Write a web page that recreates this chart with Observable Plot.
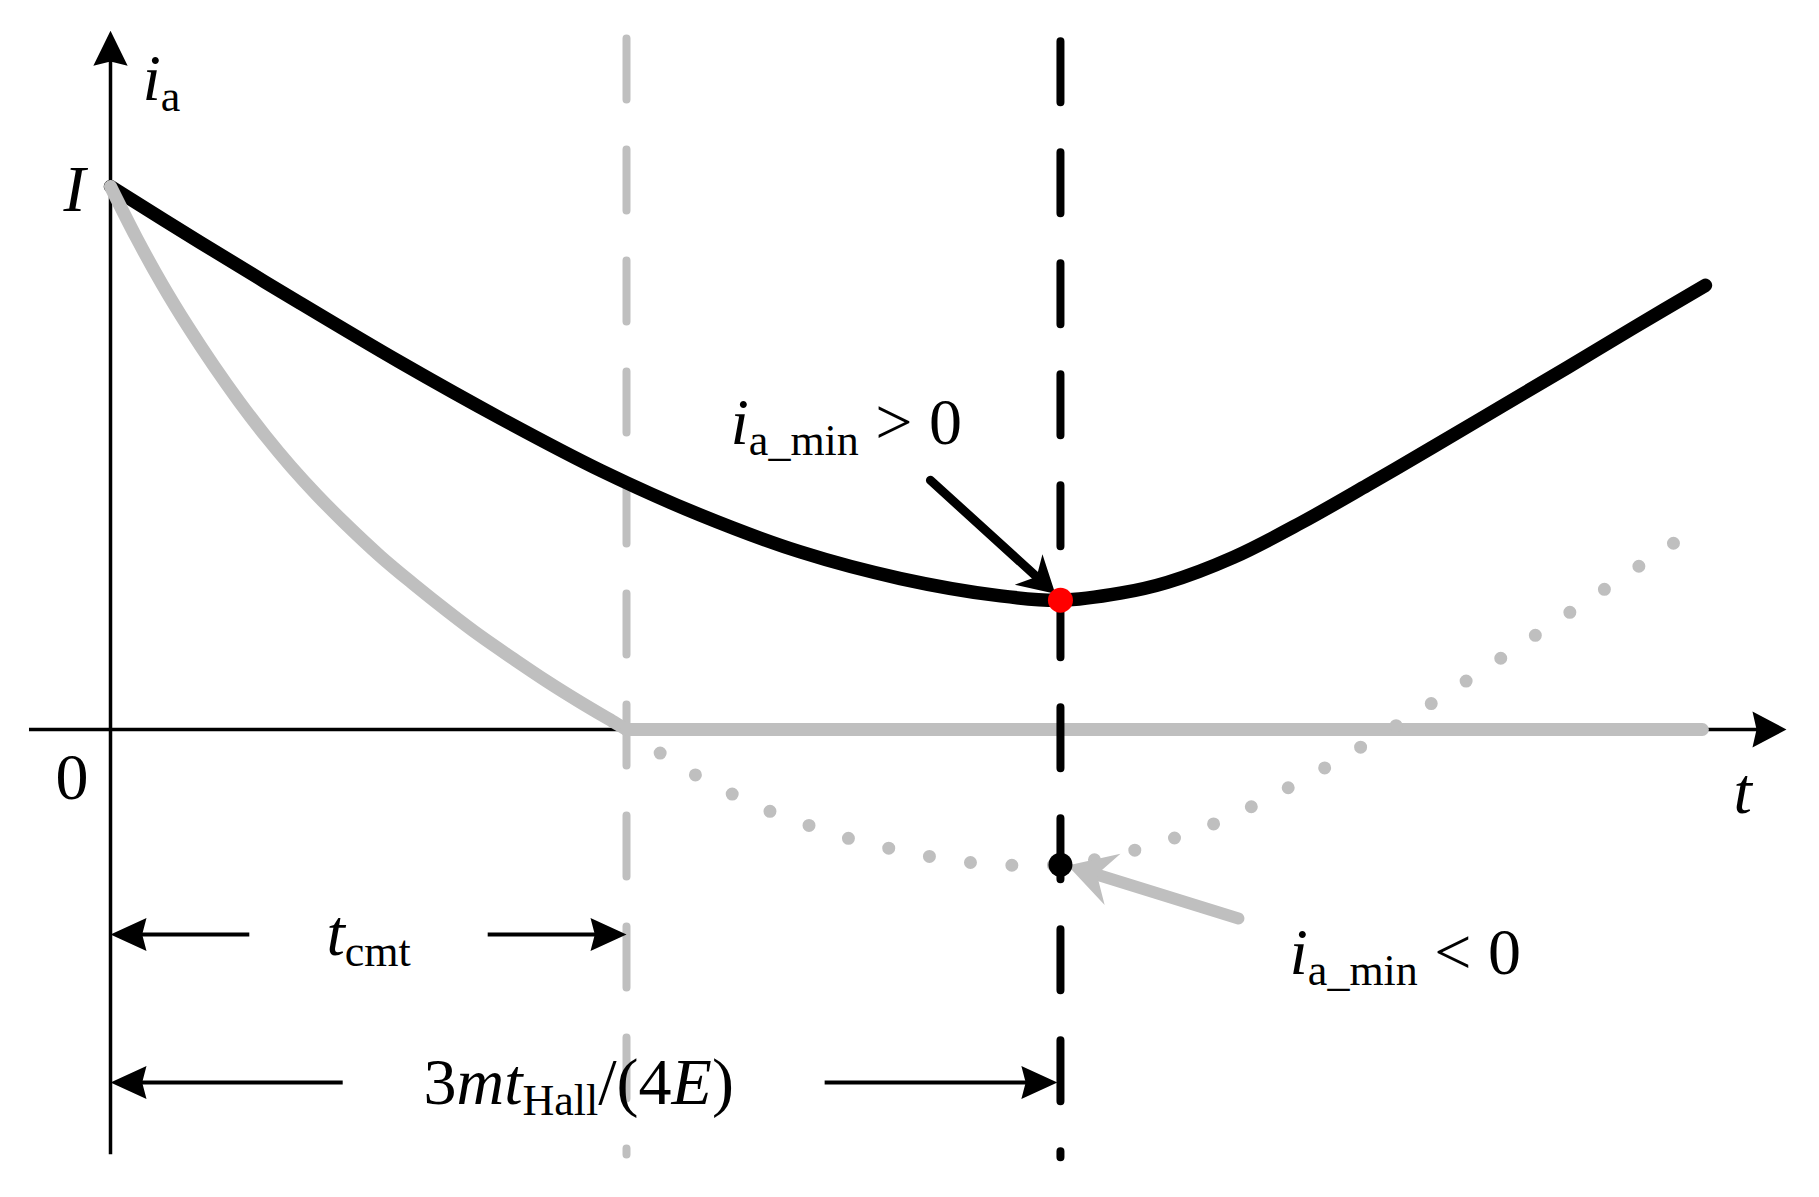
<!DOCTYPE html>
<html>
<head>
<meta charset="utf-8">
<script src="https://cdn.jsdelivr.net/npm/d3@7"></script>
<script src="https://cdn.jsdelivr.net/npm/@observablehq/plot@0.6"></script>
<style>
html, body { margin: 0; padding: 0; background: #fff; overflow: hidden; }
#chart svg { display: block; }
</style>
</head>
<body>
<div id="chart"></div>
<script>
// ---------- data (t normalised so that t_cmt = 1, i normalised so that I = 1) ----------
const blackT = [0, 0.174, 0.368, 0.562, 0.756, 0.950, 1.143, 1.337, 1.531, 1.725, 1.841, 1.957, 2.048, 2.176, 2.306, 2.436, 2.564, 2.694, 2.824, 2.950, 3.091];
const blackI = [1.000, 0.897, 0.785, 0.676, 0.573, 0.477, 0.395, 0.327, 0.278, 0.246, 0.238, 0.251, 0.271, 0.317, 0.380, 0.450, 0.521, 0.594, 0.667, 0.739, 0.818];

const grayT = [0, 0.05, 0.10, 0.15, 0.20, 0.25, 0.30, 0.35, 0.40, 0.45, 0.523, 0.587, 0.653, 0.717, 0.781, 0.847, 0.911, 0.975, 1.000];
const grayI = [1.000, 0.906, 0.820, 0.742, 0.670, 0.603, 0.541, 0.484, 0.432, 0.384, 0.319, 0.268, 0.218, 0.172, 0.130, 0.088, 0.050, 0.014, 0.000];

const grayFlatT = [1.000, 3.085];
const grayFlatI = [0, 0];

const dotT = [1.000, 1.066, 1.136, 1.207, 1.279, 1.355, 1.432, 1.510, 1.589, 1.667, 1.748, 1.841, 1.907, 1.986, 2.140, 2.283, 2.422, 2.560, 2.694, 2.827, 2.961, 3.029];
const dotI = [0, -0.044, -0.085, -0.120, -0.151, -0.177, -0.201, -0.219, -0.234, -0.245, -0.250, -0.249, -0.240, -0.222, -0.173, -0.107, -0.033, 0.048, 0.131, 0.215, 0.300, 0.343];

const tCmt = 1.0;          // t_cmt
const tMin = 1.841;        // 3 m t_Hall / (4E)
const iMinPos = 0.238;     // i_a_min > 0 (black curve)
const iMinNeg = -0.249;    // i_a_min < 0 (dotted curve)

// axis extents
const xAxisLeft = -0.157, xAxisRight = 3.248;
const yAxisBottom = -0.783, yAxisTop = 1.287;
const dashTop = 1.2716, dashBottom = -0.7836;

// dimension arrows (tail t, tip t, level i)
const dimRows = [
  {tail: 0.269, tip: 0,     i: -0.3775},
  {tail: 0.731, tip: tCmt,  i: -0.3775},
  {tail: 0.450, tip: 0,     i: -0.650},
  {tail: 1.384, tip: 1.835, i: -0.650}
];
// annotation arrows
const blackArrow = {t1: 1.589, i1: 0.459, t2: 1.831, i2: 0.250};
const grayArrow  = {t1: 2.186, i1: -0.348, t2: 1.855, i2: -0.2505};

// labels: anchor (baseline, start) and rich parts
const labels = [
  {t: 0.062,  i: 1.1584,  parts: [["i", "it"], ["a", "sub"]]},
  {t: -0.091, i: 0.954,   parts: [["I", "it"]]},
  {t: -0.1066,i: -0.1271, parts: [["0", "rm"]]},
  {t: 3.1453, i: -0.1529, parts: [["t", "it"]]},
  {t: 1.2016, i: 0.5267,  parts: [["i", "it"], ["a_min", "sub"], [" > 0", "rm"]]},
  {t: 2.2849, i: -0.4494, parts: [["i", "it"], ["a_min", "sub"], [" < 0", "rm"]]},
  {t: 0.4186, i: -0.4162, parts: [["t", "it"], ["cmt", "sub"]]},
  {t: 0.6066, i: -0.6888, parts: [["3", "rm"], ["mt", "it"], ["Hall", "sub"], ["/(4", "rm"], ["E", "it"], [")", "rm"]]}
];

// ---------- layout ----------
const W = 1819, H = 1197;
const X0 = 110, KX = 516, Y0 = 729, KY = 543;   // pixel origin and pixels per unit
const FONT = "'Liberation Serif','Times New Roman',Times,serif";
const GRAY = "#bfbfbf";

const toRows = (T, I) => T.map((t, k) => ({t, i: I[k]}));
const blackRows = toRows(blackT, blackI);
const grayRows = toRows(grayT, grayI);
const grayFlatRows = toRows(grayFlatT, grayFlatI);
// dotted line drawn from its far end so the pattern ends on a dot there
const dotRows = toRows(dotT, dotI).reverse();

function angleOf(t1, i1, t2, i2) {
  return Math.atan2((t2 - t1) * KX, (i2 - i1) * KY) * 180 / Math.PI;
}
function shortened(t1, i1, t2, i2, px) {
  const len = Math.hypot((t2 - t1) * KX, (i2 - i1) * KY);
  const f = (len - px) / len;
  return {t: t1 + (t2 - t1) * f, i: i1 + (i2 - i1) * f};
}
function arrowSymbol(ratio, notch) {
  return {
    draw(ctx, size) {
      const r = Math.sqrt(size / Math.PI), L = 2 * r, hw = ratio * L;
      ctx.moveTo(0, 0);
      ctx.lineTo(hw, L);
      ctx.lineTo(0, L * (1 - notch));
      ctx.lineTo(-hw, L);
      ctx.closePath();
    }
  };
}

const dimShafts = dimRows.map(d => {
  const e = shortened(d.tail, d.i, d.tip, d.i, 26);
  return {t1: d.tail, i1: d.i, t2: e.t, i2: e.i};
});
const dimHeads = dimRows.map(d => ({t: d.tip, i: d.i, rot: angleOf(d.tail, d.i, d.tip, d.i)}));

const bEnd = shortened(blackArrow.t1, blackArrow.i1, blackArrow.t2, blackArrow.i2, 26);
const gEnd = shortened(grayArrow.t1, grayArrow.i1, grayArrow.t2, grayArrow.i2, 32);

const plot = Plot.plot({
  width: W, height: H, margin: 0,
  x: {domain: [-X0 / KX, (W - X0) / KX], axis: null},
  y: {domain: [(Y0 - H) / KY, Y0 / KY], axis: null},
  style: {background: "white", overflow: "visible"},
  marks: [
    // axes
    Plot.ruleY([0], {x1: xAxisLeft, x2: xAxisRight - 0.05, stroke: "black", strokeWidth: 3.5}),
    Plot.ruleX([0], {y1: yAxisBottom, y2: yAxisTop - 0.05, stroke: "black", strokeWidth: 3.5}),
    Plot.dot([{t: xAxisRight, i: 0, rot: 90}], {x: "t", y: "i", rotate: "rot", r: 17, symbol: arrowSymbol(0.53, 0.12), fill: "black", stroke: "none"}),
    Plot.dot([{t: 0, i: yAxisTop, rot: 0}], {x: "t", y: "i", rotate: "rot", r: 17.5, symbol: arrowSymbol(0.49, 0.12), fill: "black", stroke: "none"}),

    // gray dashed t_cmt line
    Plot.ruleX([tCmt], {y1: dashTop, y2: dashBottom, stroke: GRAY, strokeWidth: 8, strokeDasharray: "61 50", strokeLinecap: "round"}),

    // black current
    Plot.line(blackRows, {x: "t", y: "i", curve: "catmull-rom", stroke: "black", strokeWidth: 13.5, strokeLinecap: "round", strokeLinejoin: "round"}),

    // gray current
    Plot.line(grayRows, {x: "t", y: "i", curve: "catmull-rom", stroke: GRAY, strokeWidth: 13, strokeLinecap: "round", strokeLinejoin: "round"}),
    Plot.line(grayFlatRows, {x: "t", y: "i", stroke: GRAY, strokeWidth: 13, strokeLinecap: "round"}),

    // dotted continuation
    Plot.line(dotRows, {x: "t", y: "i", curve: "catmull-rom", stroke: GRAY, strokeWidth: 13, strokeDasharray: "0 41.5", strokeLinecap: "round"}),

    // black dashed at 3mt_Hall/(4E)
    Plot.ruleX([tMin], {y1: dashTop - 0.005, y2: dashBottom - 0.005, stroke: "black", strokeWidth: 8, strokeDasharray: "61 50", strokeLinecap: "round"}),

    // dimension arrows
    Plot.link(dimShafts, {x1: "t1", y1: "i1", x2: "t2", y2: "i2", stroke: "black", strokeWidth: 4}),
    Plot.dot(dimHeads, {x: "t", y: "i", rotate: "rot", r: 18, symbol: arrowSymbol(0.46, 0.12), fill: "black", stroke: "none"}),

    // annotation arrows
    Plot.link([{t1: blackArrow.t1, i1: blackArrow.i1, t2: bEnd.t, i2: bEnd.i}], {x1: "t1", y1: "i1", x2: "t2", y2: "i2", stroke: "black", strokeWidth: 9, strokeLinecap: "round"}),
    Plot.dot([{t: blackArrow.t2, i: blackArrow.i2, rot: angleOf(blackArrow.t1, blackArrow.i1, blackArrow.t2, blackArrow.i2)}], {x: "t", y: "i", rotate: "rot", r: 18, symbol: arrowSymbol(0.57, 0.3), fill: "black", stroke: "none"}),
    Plot.link([{t1: grayArrow.t1, i1: grayArrow.i1, t2: gEnd.t, i2: gEnd.i}], {x1: "t1", y1: "i1", x2: "t2", y2: "i2", stroke: GRAY, strokeWidth: 12, strokeLinecap: "round"}),
    Plot.dot([{t: grayArrow.t2, i: grayArrow.i2, rot: angleOf(grayArrow.t1, grayArrow.i1, grayArrow.t2, grayArrow.i2)}], {x: "t", y: "i", rotate: "rot", r: 23.5, symbol: arrowSymbol(0.57, 0.35), fill: GRAY, stroke: "none"}),

    // minimum points
    Plot.dot([{t: tMin, i: iMinPos}], {x: "t", y: "i", r: 12.5, fill: "#ff0000", stroke: "none"}),
    Plot.dot([{t: tMin, i: iMinNeg}], {x: "t", y: "i", r: 12, fill: "black", stroke: "none"}),

    // labels
    Plot.text(labels, {x: "t", y: "i", text: d => d.parts.map(p => p[0]).join(""), textAnchor: "start", lineAnchor: "bottom", fontSize: 66, fontFamily: FONT, fill: "black"})
  ]
});

// rich text: italics and subscripts
const NS = "http://www.w3.org/2000/svg";
const textNodes = plot.querySelectorAll('g[aria-label="text"] text');
textNodes.forEach((el, j) => {
  const d = labels[j];
  if (!d) return;
  el.textContent = "";
  el.setAttribute("style", "white-space: pre");
  let shift = 0;
  for (const [s, kind] of d.parts) {
    const ts = document.createElementNS(NS, "tspan");
    const target = kind === "sub" ? 11 : 0;
    if (target !== shift) ts.setAttribute("dy", String(target - shift));
    shift = target;
    if (kind === "it") ts.setAttribute("font-style", "italic");
    if (kind === "sub") ts.setAttribute("font-size", "44");
    ts.textContent = s;
    el.appendChild(ts);
  }
});

document.getElementById("chart").appendChild(plot);
</script>
</body>
</html>
